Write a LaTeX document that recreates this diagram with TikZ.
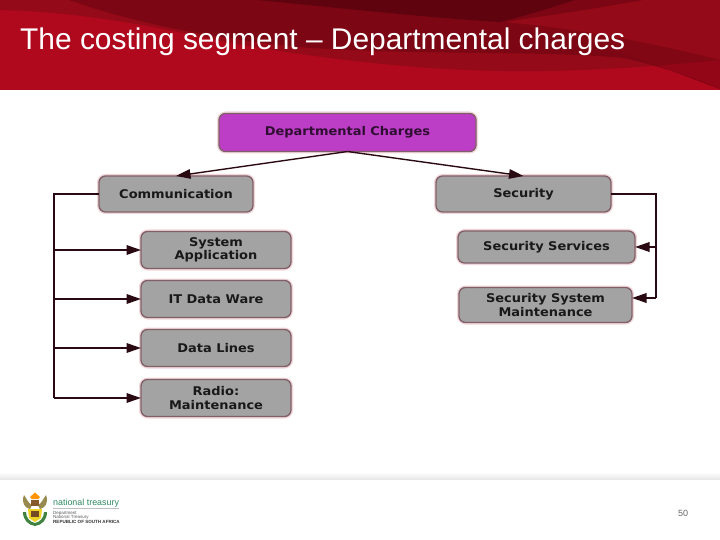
\documentclass[tikz,border=0pt]{standalone}
\usepackage{fontspec}
\setmainfont{DejaVu Sans}[FakeStretch=1.08]
\newfontfamily\arialfont{Liberation Sans}
\usetikzlibrary{arrows.meta,calc}
\definecolor{basered}{HTML}{B0081C}
\definecolor{midred}{HTML}{950A18}
\definecolor{darkred}{HTML}{7C0613}
\definecolor{deepred}{HTML}{5F040F}
\definecolor{boxgray}{HTML}{A3A3A3}
\definecolor{boxedge}{HTML}{806068}
\definecolor{halo}{HTML}{F0D6DB}
\definecolor{purplebox}{HTML}{BC3DC6}
\definecolor{linedark}{HTML}{2A0A12}
\definecolor{treasury}{HTML}{2F8A62}
\tikzset{
  x=1pt,y=-1pt,
  chartbox/.style={preaction={draw=halo,line width=4pt},draw=boxedge,line width=1.3pt,fill=boxgray,rounded corners=6.5pt,
    inner sep=0pt,outer sep=0pt,align=center,font=\bfseries\fontsize{12}{13.5}\selectfont,text=black!90},
  topbox/.style={chartbox,fill=purplebox,text=black!75!purplebox},
  link/.style={draw=linedark,line width=1.9pt},
  branch/.style={link,-{Triangle[length=14.5pt,width=9.5pt]}},
  thinbranch/.style={branch,line width=1.4pt},
  logotext/.style={inner sep=0pt,anchor=west,font=\arialfont\fontsize{4.5}{4.5}\selectfont,text=black!65}
}
\begin{document}
\begin{tikzpicture}
\useasboundingbox (0,0) rectangle (720,540);
\fill[white] (0,0) rectangle (720,540);
% header
\fill[basered] (0,0) rectangle (720,90);
\fill[midred] (0,0) -- (720,0) -- (720,60) .. controls (640,68) and (570,72) .. (505,71)
  .. controls (420,70) and (330,60) .. (230,43) .. controls (170,30) and (90,12) .. (0,10) -- cycle;
\fill[darkred] (69,0) .. controls (130,22) and (210,38) .. (298,47)
  .. controls (420,56) and (540,50) .. (624,58) .. controls (660,66) and (695,78) .. (720,89)
  .. controls (660,66) and (590,40) .. (505,22) .. controls (550,15) and (600,8) .. (643,0) -- cycle;
\fill[deepred] (257,0) .. controls (340,8) and (430,18) .. (500,22) .. controls (525,16) and (550,8) .. (575,0) -- cycle;
\fill[deepred,opacity=.35] (505,22) .. controls (590,40) and (660,66) .. (720,89) -- (720,60) .. controls (660,45) and (590,30) .. (505,22) -- cycle;
\node[anchor=base west,inner sep=0pt,text=white,font=\arialfont\fontsize{29.9}{32}\selectfont] (title) at (20,50) {The costing segment – Departmental charges};
% footer band
\shade[top color=white,bottom color=black!9] (0,472) rectangle (720,479);
% nodes
\node[topbox,minimum width=257pt,minimum height=38pt] (dept) at (347.5,132.5) {Departmental Charges};
\node[chartbox,minimum width=154pt,minimum height=36pt] (comm) at (176,194) {Communication};
\node[chartbox,minimum width=175pt,minimum height=36pt] (sec) at (523.5,194) {Security};
\node[chartbox,minimum width=150pt,minimum height=37pt] (sysapp) at (216,250) {System\\Application};
\node[chartbox,minimum width=150pt,minimum height=37pt] (itdata) at (216,299) {IT Data Ware};
\node[chartbox,minimum width=150pt,minimum height=37pt] (lines) at (216,348) {Data Lines};
\node[chartbox,minimum width=150pt,minimum height=37pt] (radio) at (216,398) {Radio:\\Maintenance};
\node[chartbox,minimum width=177pt,minimum height=32pt] (secserv) at (546.5,247) {Security Services};
\node[chartbox,minimum width=173pt,minimum height=35pt] (secsys) at (545.5,305) {Security System\\Maintenance};
% connectors
\coordinate (hub) at (dept.south);
\draw[thinbranch] (hub) -- (comm.north);
\draw[thinbranch] (hub) -- (sec.north);
\coordinate (ltrunk) at (54,194);
\coordinate (rtrunk) at (656,194);
\coordinate (sysentry) at ($(secsys.east)+(0,-7)$);
\draw[link] (comm.west) -- (ltrunk) -- (ltrunk |- radio.west);
\foreach \t in {sysapp,itdata,lines,radio}
  \draw[branch] (ltrunk |- \t.west) -- (\t.west);
\draw[link] (sec.east) -- (rtrunk) -- (rtrunk |- sysentry);
\draw[branch] (rtrunk |- secserv.east) -- (secserv.east);
\draw[branch] (rtrunk |- sysentry) -- (sysentry);
% footer logo
\fill[black!55!yellow!70!brown] (24,495) .. controls (21,503) and (25,508) .. (30,509) -- (32,505) .. controls (28,503) and (27,499) .. (24,495) -- cycle;
\fill[black!55!yellow!70!brown] (46,495) .. controls (49,503) and (45,508) .. (40,509) -- (38,505) .. controls (42,503) and (43,499) .. (46,495) -- cycle;
\fill[orange!85!yellow] (30,497) -- (35,492.5) -- (40,497) -- (38,499) -- (32,499) -- cycle;
\fill[brown!70!black] (31,500) rectangle (39,506);
\fill[green!35!black!75] (35,526) .. controls (28,525) and (23,520) .. (23,512) -- (26,512) .. controls (26,518) and (30,522) .. (35,523) .. controls (40,522) and (44,518) .. (44,512) -- (47,512) .. controls (47,520) and (42,525) .. (35,526) -- cycle;
\fill[yellow!70!brown] (28,509) -- (42,509) -- (41,518) -- (35,522) -- (29,518) -- cycle;
\fill[brown!60!black] (31,511) rectangle (39,517);
\node[logotext,text=treasury,font=\arialfont\fontsize{8.9}{10}\selectfont] (ntlogo) at (53,503.5) {national treasury};
\draw[black!25,line width=.4pt] (53,508.5) -- (119,508.5);
\node[logotext] (deptlogo) at (53,513) {Department};
\node[logotext] (natlogo) at (53,517.5) {National Treasury};
\node[logotext,text=black!80,font=\arialfont\bfseries\fontsize{4.55}{4.55}\selectfont] (rsalogo) at (53,522) {REPUBLIC OF SOUTH AFRICA};
\node[inner sep=0pt,text=black!60,font=\arialfont\fontsize{9}{10}\selectfont] (pagenum) at (683,513.5) {50};
\end{tikzpicture}
\end{document}
